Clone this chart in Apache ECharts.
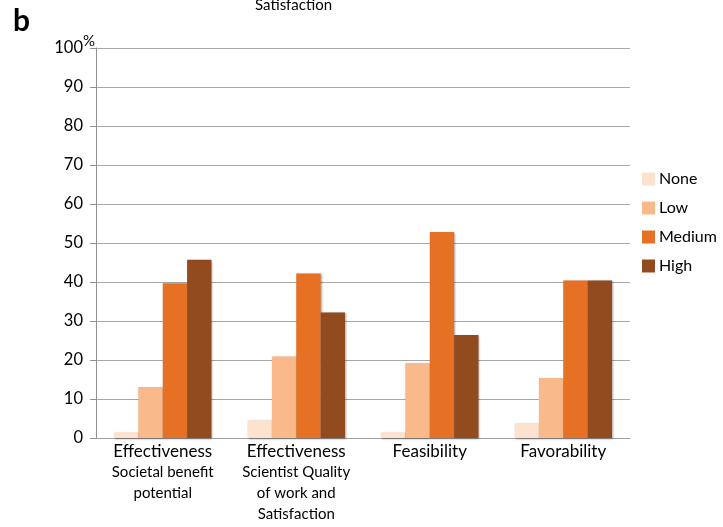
<!DOCTYPE html>
<html><head><meta charset="utf-8">
<script src="https://cdn.jsdelivr.net/npm/echarts@6/dist/echarts.min.js"></script>
<style>html,body{margin:0;padding:0;background:#fff}#c{width:723px;height:527px}</style>
</head><body><div id="c"></div>
<script>
var categories = ['Effectiveness|Societal benefit|potential', 'Effectiveness|Scientist Quality|of work and|Satisfaction', 'Feasibility', 'Favorability'];
var seriesNames = ['None', 'Low', 'Medium', 'High'];
var noneVals = [1.5, 4.5, 1.5, 3.8];
var lowVals = [13.1, 20.9, 19.2, 15.4];
var mediumVals = [39.7, 42.2, 52.8, 40.4];
var highVals = [45.7, 32.2, 26.4, 40.4];
var colors = ['#fde3cf', '#f9b98a', '#e67125', '#924a1f'];
var FONT = 'Lato, "Open Sans", sans-serif';

var chart = echarts.init(document.getElementById('c'), null, {renderer: 'canvas'});
var allVals = [noneVals, lowVals, mediumVals, highVals];
var series = seriesNames.map(function (n, i) {
  return {
    name: n, type: 'bar', data: allVals[i],
    barGap: '0%', barCategoryGap: '27%',
    itemStyle: {color: colors[i], shadowColor: 'rgba(0,0,0,0.35)', shadowBlur: 2, shadowOffsetX: 1, shadowOffsetY: 1},
    emphasis: {disabled: true}
  };
});
chart.setOption({
  animation: false,
  textStyle: {fontFamily: FONT},
  grid: {left: 96, right: 93, top: 48, bottom: 89, containLabel: false},
  legend: {
    orient: 'vertical', left: 642, top: 171, padding: 0,
    itemWidth: 13, itemHeight: 13, itemGap: 13,
    icon: 'rect',
    textStyle: {fontSize: 16, color: '#000', fontFamily: FONT, lineHeight: 14, padding: [0, 0, 0, -1]},
    data: seriesNames
  },
  xAxis: {
    type: 'category', data: categories,
    axisLine: {show: true, lineStyle: {color: '#a0a0a0', width: 1}},
    axisTick: {show: false},
    axisLabel: {
      interval: 0, margin: 3, color: '#000',
      formatter: function (v) {
        var parts = v.split('|');
        return parts.map(function (p, k) { return (k === 0 ? '{a|' : '{b|') + p + '}'; }).join('\n');
      },
      rich: {
        a: {fontSize: 17, lineHeight: 21, fontFamily: FONT, color: '#000'},
        b: {fontSize: 15, lineHeight: 21, fontFamily: FONT, color: '#000'}
      }
    }
  },
  yAxis: {
    type: 'value', min: 0, max: 100, interval: 10,
    axisLine: {show: true, lineStyle: {color: '#909090'}},
    axisTick: {show: true, length: 6, lineStyle: {color: '#909090'}},
    splitLine: {show: true, lineStyle: {color: '#a8a8a8', width: 1}},
    axisLabel: {fontSize: 16.5, color: '#000', margin: 13, fontFamily: FONT}
  },
  graphic: [
    {type: 'text', left: 13, top: 6, style: {text: 'b', fontSize: 30, fontWeight: 'bold', fill: '#000', fontFamily: FONT}},
    {type: 'text', left: 255, top: -2, style: {text: 'Satisfaction', fontSize: 15, fill: '#000', fontFamily: FONT}},
    {type: 'text', left: 83, top: 34, style: {text: '%', fontSize: 15, fill: '#000', fontFamily: FONT}}
  ],
  series: series
});
</script></body></html>
